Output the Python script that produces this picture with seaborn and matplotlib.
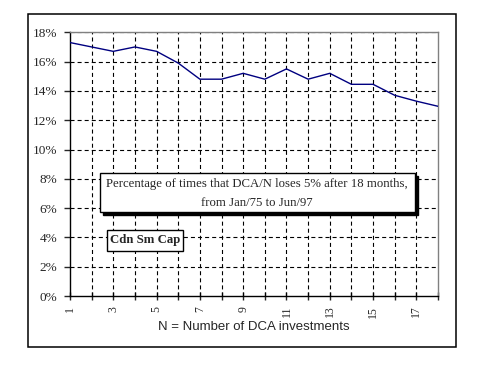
import seaborn as sns
import pandas as pd
import matplotlib.pyplot as plt
from matplotlib.patches import Rectangle
from matplotlib.ticker import FuncFormatter

# data
n_investments = list(range(1, 19))
pct_loses = [17.3, 17.0, 16.7, 17.0, 16.7, 15.9, 14.8, 14.8, 15.2,
             14.8, 15.5, 14.8, 15.2, 14.45, 14.45, 13.7, 13.3, 12.95]
y_ticks = list(range(0, 19, 2))
x_tick_labels = [str(i) if i % 2 == 1 else '' for i in n_investments]

note_line1 = 'Percentage of times that DCA/N loses 5% after 18 months,'
note_line2 = 'from Jan/75 to Jun/97'
series_name = 'Cdn Sm Cap'
x_title = 'N = Number of DCA investments'

sns.set_style('white')
plt.rcParams['font.family'] = ['Liberation Sans', 'DejaVu Sans']
plt.rcParams['lines.scale_dashes'] = False

df = pd.DataFrame({'n': n_investments, 'pct': pct_loses})

fig = plt.figure(figsize=(5, 3.65), dpi=100)
ax = fig.add_axes([0.14, 0.189, 0.736, 0.7225])

# outer chart border
fig.patches.append(Rectangle((0.056, 0.0485), 0.8554, 0.9123, transform=fig.transFigure,
                             fill=False, edgecolor='black', linewidth=1.1, zorder=0))

sns.lineplot(data=df, x='n', y='pct', ax=ax, color='#000080', linewidth=1.0, zorder=5)

ax.set_xlim(1, 18)
ax.set_ylim(0, 18)
ax.set_xticks(n_investments)
ax.set_xticklabels(x_tick_labels, rotation=90, fontsize=8.5, family='Liberation Serif')
ax.set_yticks(y_ticks)
ax.yaxis.set_major_formatter(FuncFormatter(lambda v, p: f'{int(v)}%'))
for lbl in ax.get_yticklabels():
    lbl.set_family('Liberation Serif')
ax.tick_params(axis='y', labelsize=9.5, length=4, width=1, direction='out', pad=5, left=True)
ax.tick_params(axis='x', length=6, width=1, direction='inout', pad=4, bottom=True)

grid_dash = (0, (2.9, 2.2))
for yv in y_ticks[1:]:
    ax.axhline(yv, color='black', linewidth=0.8, linestyle=grid_dash, zorder=1)
for xv in n_investments[1:-1]:
    ax.axvline(xv, color='black', linewidth=0.8, linestyle=grid_dash, zorder=1)

for side in ['top', 'right']:
    ax.spines[side].set_color('#808080')
    ax.spines[side].set_linewidth(1)
for side in ['left', 'bottom']:
    ax.spines[side].set_color('black')
    ax.spines[side].set_linewidth(1)

ax.set_ylabel('')
ax.set_xlabel(x_title, fontsize=9.5)
ax.xaxis.set_label_coords(0.5, -0.095)

# note box with shadow
bx, by, bw, bh = 0.2, 0.42, 0.63, 0.1068
fig.patches.append(Rectangle((bx + 3 / 500, by - 3 / 365), bw, bh, transform=fig.transFigure,
                             facecolor='black', edgecolor='black', zorder=6))
fig.patches.append(Rectangle((bx, by), bw, bh, transform=fig.transFigure,
                             facecolor='white', edgecolor='black', linewidth=1, zorder=7))
fig.text(0.513, 0.496, note_line1, ha='center', va='center', fontsize=9.2,
         family='Liberation Serif', zorder=8)
fig.text(0.513, 0.445, note_line2, ha='center', va='center', fontsize=9.2,
         family='Liberation Serif', zorder=8)

# series label box
fig.patches.append(Rectangle((0.214, 0.3132), 0.1514, 0.0567, transform=fig.transFigure,
                             facecolor='white', edgecolor='black', linewidth=1, zorder=7))
fig.text(0.2897, 0.3416, series_name, ha='center', va='center', fontsize=9.2,
         fontweight='bold', family='Liberation Serif', zorder=8)

fig.savefig('out.png', dpi=100)
